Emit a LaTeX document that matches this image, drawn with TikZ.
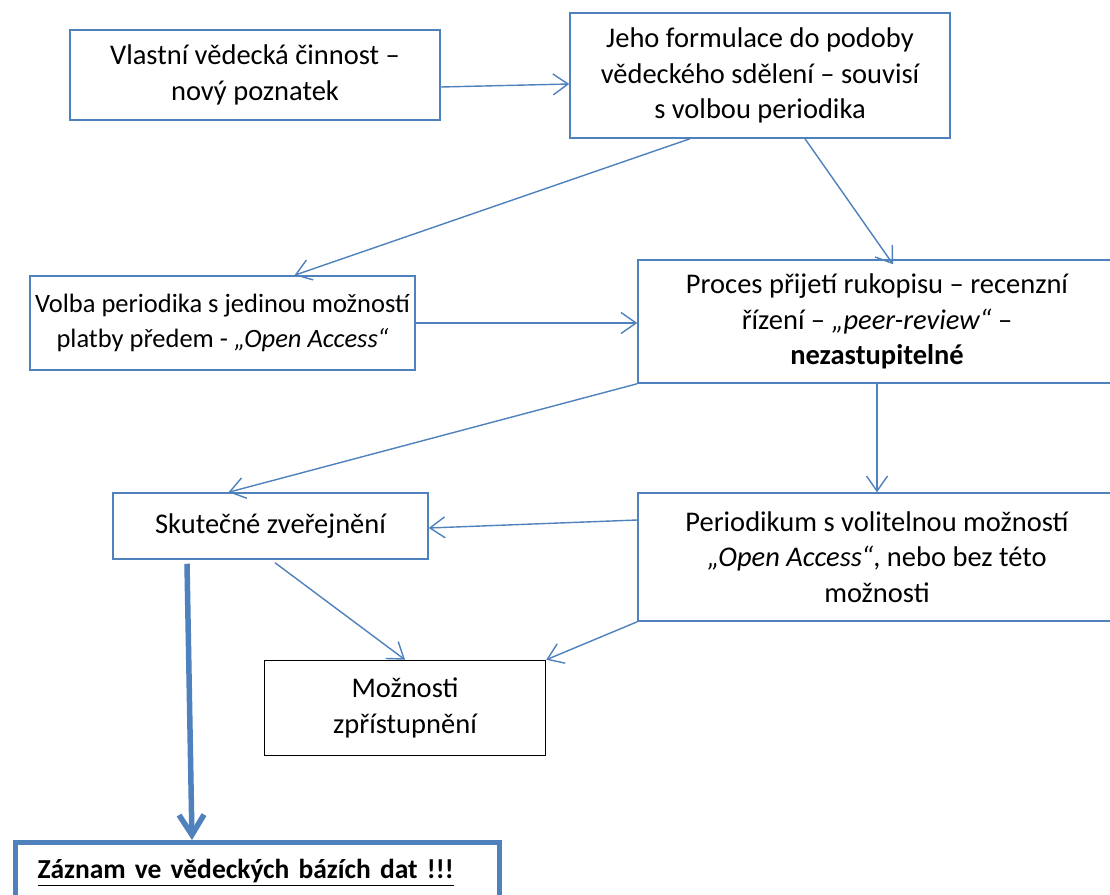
\documentclass[tikz,border=0pt]{standalone}
\usepackage{fontspec}
\setmainfont{Carlito}
\usetikzlibrary{arrows.meta}
\definecolor{ofblue}{HTML}{4F81BD}
\tikzset{
  box/.style={draw=ofblue, line width=1.5pt, align=center, inner sep=0pt,
    font=\fontsize{28.5}{35.5}\selectfont},
  arr/.style={draw=ofblue, line width=1.4pt, -{Straight Barb[length=15pt,width=21pt]}},
  bigarr/.style={draw=ofblue, line width=5.5pt, -{Straight Barb[length=20pt,width=25pt]}}
}
\begin{document}
\begin{tikzpicture}[x=1pt,y=-1pt]
    \useasboundingbox (0,0) rectangle (1110,894);
    \fill[white] (0,0) rectangle (1110,894);
    \clip (0,0) rectangle (1110,894);
    % boxes
    \node[box, minimum width=370, minimum height=90] (cinnost) at (255,75) {Vlastní vědecká činnost –\\nový poznatek};
    \node[box, minimum width=380, minimum height=125] (formulace) at (760,75.5) {Jeho formulace do podoby\\vědeckého sdělení – souvisí\\s volbou periodika};
    \node[box, minimum width=385, minimum height=94, font=\fontsize{26.5}{35}\selectfont] (volba) at (222.5,323) {Volba periodika s jedinou možností\\platby předem - \textit{„Open Access“}};
    \node[box, minimum width=478, minimum height=123] (proces) at (877,321.5) {Proces přijetí rukopisu – recenzní\\řízení – \textit{„peer-review“} –\\\textbf{nezastupitelné}};
    \node[box, minimum width=315, minimum height=66] (zverejneni) at (270.5,526) {Skutečné zveřejnění};
    \node[box, minimum width=478, minimum height=128] (periodikum) at (877,557) {Periodikum s volitelnou možností\\\textit{„Open Access“}, nebo bez této\\možnosti};
    \node[box, draw=black, minimum width=281, minimum height=95] (moznosti) at (405,708) {Možnosti\\zpřístupnění};
    \node[box, line width=5pt, anchor=north west, text width=440pt, inner xsep=22pt, minimum height=60, align=left,
      font=\fontsize{27.5}{34}\selectfont] (zaznam) at (13,840) {\textbf{\underline{Záznam ve vědeckých bázích dat !!!}}};
    % arrows
    \draw[arr] ([yshift=-12pt]cinnost.east) -- ([yshift=-8.5pt]formulace.west);
    \draw[arr] ([xshift=-70pt]formulace.south) -- ([xshift=72pt]volba.north);
    \draw[arr] ([xshift=45pt]formulace.south) -- ([xshift=16pt,yshift=-5pt]proces.north);
    \draw[arr] (volba.east) -- (volba.east -| proces.west);
    \draw[arr] (proces.south west) -- ([xshift=-42pt]zverejneni.north);
    \draw[arr] (proces.south) -- (periodikum.north);
    \draw[arr] ([yshift=37pt]periodikum.west) -- ([yshift=-2pt]zverejneni.east);
    \draw[arr] ([xshift=4.5pt,yshift=-3pt]zverejneni.south) -- (moznosti.north);
    \draw[arr] (periodikum.south west) -- (moznosti.north east);
    \draw[bigarr] ([xshift=-83.5pt,yshift=-4pt]zverejneni.south) -- ([xshift=179pt]zaznam.north west);
\end{tikzpicture}
\end{document}
